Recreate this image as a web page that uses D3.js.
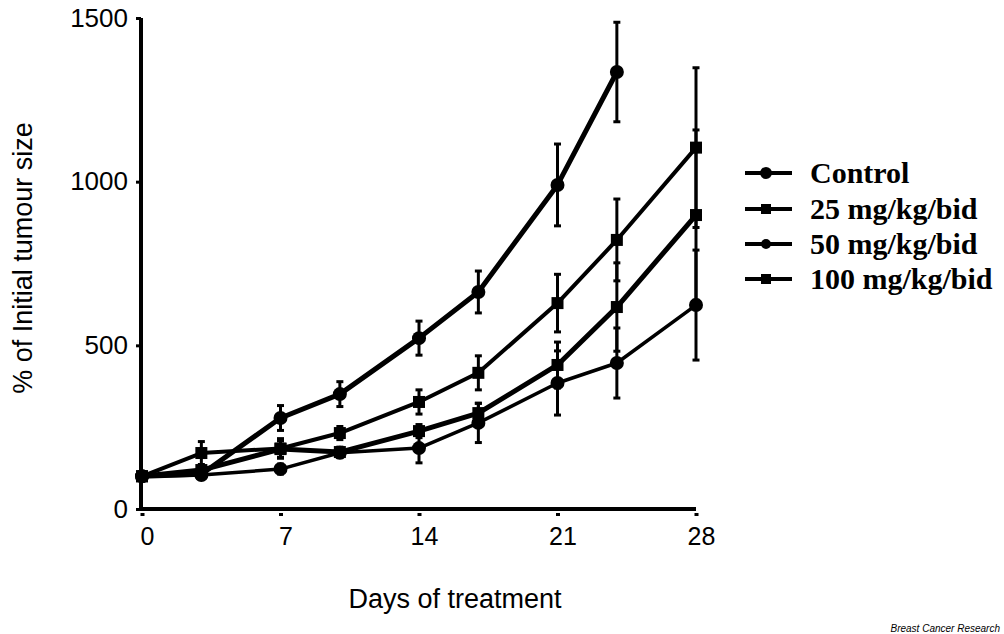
<!DOCTYPE html>
<html><head><meta charset="utf-8">
<script src="https://cdn.jsdelivr.net/npm/d3@7"></script>
<style>body{margin:0;background:#fff}svg{display:block}</style>
</head><body>
<svg id="c" width="1004" height="634"></svg>
<script>
const days = [0, 3, 7, 10, 14, 17, 21, 24, 28];
const xTicks = [0, 7, 14, 21, 28];
const yTicks = [0, 500, 1000, 1500];
const seriesNames = ["Control", "25 mg/kg/bid", "50 mg/kg/bid", "100 mg/kg/bid"];
const controlVals = [100, 106, 278, 351, 522, 663, 990, 1335];
const controlErr  = [0, 15, 38, 38, 52, 64, 125, 152];
const mg25Vals = [100, 171, 185, 232, 327, 416, 629, 822, 1104];
const mg25Err  = [0, 35, 30, 20, 37, 52, 88, 125, 244];
const mg50Vals = [100, 104, 122, 172, 186, 263, 385, 446, 623];
const mg50Err  = [0, 10, 15, 15, 45, 60, 98, 107, 168];
const mg100Vals = [100, 119, 183, 174, 238, 293, 440, 617, 898];
const mg100Err  = [0, 10, 25, 15, 20, 30, 70, 135, 260];

const series = [
  {name: seriesNames[0], vals: controlVals, err: controlErr, shape: "circle", w: 5},
  {name: seriesNames[1], vals: mg25Vals, err: mg25Err, shape: "square", w: 4},
  {name: seriesNames[2], vals: mg50Vals, err: mg50Err, shape: "circle", w: 3.5},
  {name: seriesNames[3], vals: mg100Vals, err: mg100Err, shape: "square", w: 5}
];

const svg = d3.select("#c");
const x = d3.scaleLinear().domain([0, 28]).range([142, 696]);
const y = d3.scaleLinear().domain([0, 1500]).range([509, 18]);

// axes
const yAxis = d3.axisLeft(y).tickValues(yTicks).tickSize(5).tickPadding(8).tickFormat(d3.format("d"));
const gy = svg.append("g").attr("transform", "translate(141,0)").call(yAxis);
gy.select(".domain").attr("stroke", "#000").attr("stroke-width", 4).attr("d", `M0,${y(1500)}V${y(0)+1}`);
gy.selectAll(".tick line").attr("stroke-width", 3);
gy.selectAll(".tick text").attr("font-family", "Liberation Sans, Arial, sans-serif").attr("font-size", 26).attr("fill", "#000");

const xAxis = d3.axisBottom(x).tickValues(xTicks).tickSize(0).tickPadding(18);
const gx = svg.append("g").attr("transform", "translate(0,509)").call(xAxis);
gx.select(".domain").attr("stroke", "#000").attr("stroke-width", 4).attr("d", `M${x(0)-1},0H${x(28)}`);
gx.selectAll(".tick").append("rect").attr("x", -2).attr("y", 4).attr("width", 4).attr("height", 3).attr("fill", "#000");
gx.selectAll(".tick text").attr("font-family", "Liberation Sans, Arial, sans-serif").attr("font-size", 25).attr("fill", "#000").attr("dx", 5);

// axis titles
svg.append("text").attr("x", 455).attr("y", 608).attr("text-anchor", "middle")
  .attr("font-family", "Liberation Sans, Arial, sans-serif").attr("font-size", 27).text("Days of treatment");
svg.append("text").attr("transform", "translate(32,258) rotate(-90)").attr("text-anchor", "middle")
  .attr("font-family", "Liberation Sans, Arial, sans-serif").attr("font-size", 27).text("% of Initial tumour size");

// error bars
series.forEach(s => {
  const g = svg.append("g");
  s.vals.forEach((v, i) => {
    const e = s.err[i];
    if (!e) return;
    const cx = x(days[i]);
    g.append("line").attr("x1", cx).attr("x2", cx).attr("y1", y(v + e)).attr("y2", y(v - e))
      .attr("stroke", "#000").attr("stroke-width", 3);
    [v + e, v - e].forEach(t => g.append("line").attr("x1", cx - 3.5).attr("x2", cx + 3.5)
      .attr("y1", y(t)).attr("y2", y(t)).attr("stroke", "#000").attr("stroke-width", 3));
  });
});

// lines and markers
const line = d3.line().x((d, i) => x(days[i])).y(d => y(d));
series.forEach(s => {
  svg.append("path").attr("d", line(s.vals)).attr("fill", "none").attr("stroke", "#000")
    .attr("stroke-width", s.w).attr("stroke-linejoin", "round");
  const g = svg.append("g");
  s.vals.forEach((v, i) => {
    const cx = x(days[i]), cy = y(v);
    if (s.shape === "circle") g.append("circle").attr("cx", cx).attr("cy", cy).attr("r", 7).attr("fill", "#000");
    else g.append("rect").attr("x", cx - 6).attr("y", cy - 6).attr("width", 12).attr("height", 12).attr("fill", "#000");
  });
});

// legend
const legY = [173, 209, 244, 279];
series.forEach((s, i) => {
  const g = svg.append("g").attr("transform", `translate(0,${legY[i]})`);
  g.append("line").attr("x1", 745).attr("x2", 792).attr("y1", 0).attr("y2", 0).attr("stroke", "#000").attr("stroke-width", 4);
  if (s.shape === "circle") g.append("circle").attr("cx", 766).attr("cy", 0).attr("r", i === 0 ? 6 : 5).attr("fill", "#000");
  else g.append("rect").attr("x", 761).attr("y", -5).attr("width", 10).attr("height", 10).attr("fill", "#000");
  g.append("text").attr("x", 810).attr("y", 10).attr("font-family", "Liberation Serif, Times New Roman, serif")
    .attr("font-weight", "bold").attr("font-size", 30).text(s.name);
});

svg.append("text").attr("x", 1000).attr("y", 632).attr("text-anchor", "end")
  .attr("font-family", "Liberation Sans, Arial, sans-serif").attr("font-style", "italic").attr("font-size", 10)
  .text("Breast Cancer Research");
</script>
</body></html>
